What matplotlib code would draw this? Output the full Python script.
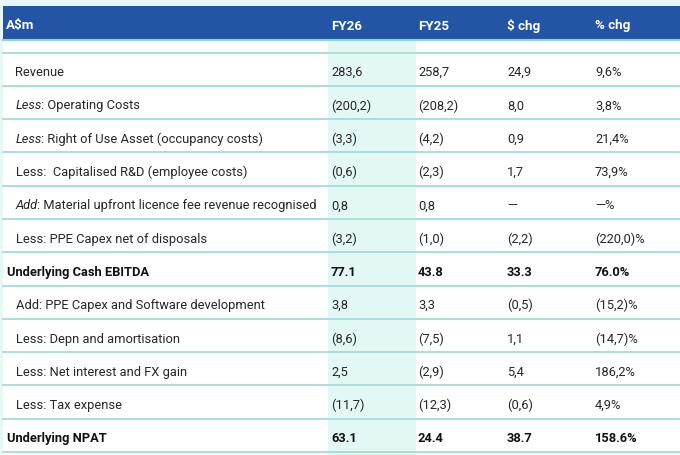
import matplotlib
matplotlib.use("Agg")
import matplotlib.pyplot as plt
from matplotlib.patches import Rectangle

header = ["A$m", "FY26", "FY25", "$ chg", "% chg"]

# (italic prefix, rest of label)
label_prefix = ["", "Less", "Less", "", "Add", "", "", "", "", "", "", ""]
label_rest = ["Revenue", ": Operating Costs", ": Right of Use Asset (occupancy costs)",
              "Less:  Capitalised R&D (employee costs)",
              ": Material upfront licence fee revenue recognised",
              "Less: PPE Capex net of disposals", "Underlying Cash EBITDA",
              "Add: PPE Capex and Software development", "Less: Depn and amortisation",
              "Less: Net interest and FX gain", "Less: Tax expense", "Underlying NPAT"]
bold_rows = [False, False, False, False, False, False, True, False, False, False, False, True]

fy26 = ["283,6", "(200,2)", "(3,3)", "(0,6)", "0,8", "(3,2)", "77.1", "3,8", "(8,6)", "2,5", "(11,7)", "63.1"]
fy25 = ["258,7", "(208,2)", "(4,2)", "(2,3)", "0,8", "(1,0)", "43.8", "3,3", "(7,5)", "(2,9)", "(12,3)", "24.4"]
dchg = ["24,9", "8,0", "0,9", "1,7", "—", "(2,2)", "33.3", "(0,5)", "1,1", "5,4", "(0,6)", "38.7"]
pchg = ["9,6%", "3,8%", "21,4%", "73,9%", "—%", "(220,0)%", "76.0%", "(15,2)%", "(14,7)%", "186,2%", "4,9%", "158.6%"]

W, H = 680, 456
fig = plt.figure(figsize=(W / 100, H / 100), dpi=100)
fig.patch.set_facecolor("#E6F7F5")
ax = fig.add_axes([0, 0, 1, 1])
ax.set_xlim(0, W)
ax.set_ylim(H, 0)
ax.axis("off")

FONT = "Roboto"
FS = 9.3
line_c = "#A3DCD8"
blue = "#2455A4"
txt_c = "#262626"

# white table body
ax.add_patch(Rectangle((3, 40), W - 3, H - 40, facecolor="white", edgecolor="none", zorder=0))
# FY26 shading
ax.add_patch(Rectangle((328, 42), 88, H - 42, facecolor="#E3F7F5", edgecolor="none", zorder=1))
# header band
ax.add_patch(Rectangle((3, 7), W - 3, 33, facecolor=blue, edgecolor="none", zorder=2))
ax.plot([3, W], [40.5, 40.5], color="#8FD3CF", lw=1.5, zorder=3)

col_x = [6, 331, 418, 507, 595]
for x, h in zip(col_x, header):
    ax.text(x, 26, h, color="white", fontsize=FS + 0.3, fontweight="bold", family=FONT,
            va="center", ha="left", zorder=4)

first_line = 53.5
step = 33.3
ax.plot([3, W], [first_line, first_line], color=line_c, lw=1.3, zorder=3)

fig.canvas.draw()
renderer = fig.canvas.get_renderer()
inv = ax.transData.inverted()

for i in range(len(label_rest)):
    top = first_line + i * step
    yc = top + step / 2 + 2.5
    ax.plot([3, W], [top + step, top + step], color=line_c, lw=1.3, zorder=3)
    bold = bold_rows[i]
    fw = "bold" if bold else "normal"
    xl = 7 if bold else 15.5
    c = "#111111" if bold else txt_c
    if label_prefix[i]:
        t = ax.text(xl, yc, label_prefix[i], fontsize=FS, family=FONT, style="italic",
                    va="center", ha="left", color=c, zorder=4)
        bb = t.get_window_extent(renderer)
        x1 = inv.transform((bb.x1, bb.y0))[0]
        ax.text(x1 - 0.5, yc, label_rest[i], fontsize=FS, family=FONT, va="center", ha="left",
                color=c, zorder=4)
    else:
        ax.text(xl, yc, label_rest[i], fontsize=FS, family=FONT, fontweight=fw,
                va="center", ha="left", color=c, zorder=4)
    for x, col in zip(col_x[1:], [fy26, fy25, dchg, pchg]):
        ax.text(x, yc, col[i], fontsize=FS, family=FONT, fontweight=fw, va="center",
                ha="left", color=c, zorder=4)

fig.savefig("out.png", dpi=100, facecolor=fig.get_facecolor())
